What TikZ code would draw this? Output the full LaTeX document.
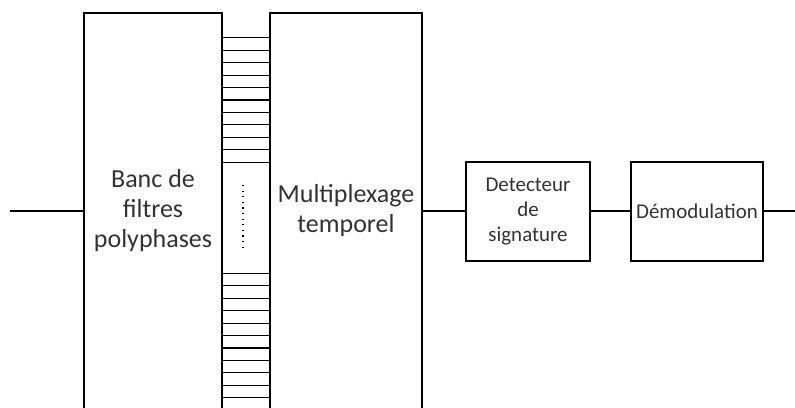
\documentclass[tikz,border=0pt]{standalone}
\usepackage{fontspec}
\setmainfont{Carlito}

\tikzset{
  bigblock/.style={draw, line width=1.1pt, inner sep=0pt, align=center,
    text=black!80, font=\fontsize{26}{30}\selectfont},
  smallblock/.style={draw, line width=1.1pt, inner sep=0pt, align=center,
    text=black!80, font=\fontsize{21}{25}\selectfont},
  wire/.style={line width=1.1pt}
}

\begin{document}
\begin{tikzpicture}[x=1pt, y=-1pt]
\useasboundingbox (0,0) rectangle (795,407);
\clip (0,0) rectangle (795,407);

% Main blocks
\node[bigblock, minimum width=138pt, minimum height=396pt] (bank) at (153,211)
  {Banc de\\filtres\\polyphases};
\node[bigblock, minimum width=152pt, minimum height=396pt] (mux) at (346,211)
  {Multiplexage\\temporel};
\node[smallblock, minimum width=124pt, minimum height=99pt] (det) at (528,211.5)
  {Detecteur\\de\\signature};
\node[smallblock, minimum width=132pt, minimum height=99pt] (demod) at (697,211.5)
  {Démodulation};

% Parallel channels between the two blocks
\foreach \k in {0,...,10} {
  \pgfmathsetmacro\ya{37.7+\k*12.45}
  \pgfmathsetmacro\yb{273.3+\k*12.45}
  \draw[wire] (bank.east |- 0,\ya) -- (mux.west |- 0,\ya);
  \draw[wire] (bank.east |- 0,\yb) -- (mux.west |- 0,\yb);
}
\coordinate (dottop) at (243,185);
\coordinate (dotbot) at (243,248);
\draw[line width=1.4pt, dash pattern=on 1.2pt off 4.4pt] (dottop) -- (dotbot);

% Signal path
\coordinate (in) at (10,211);
\coordinate (out) at (795,211);
\draw[wire] (in) -- (bank.west |- in);
\draw[wire] (mux.east |- in) -- (det.west |- in);
\draw[wire] (det.east |- in) -- (demod.west |- in);
\draw[wire] (demod.east |- in) -- (out);
\end{tikzpicture}
\end{document}
